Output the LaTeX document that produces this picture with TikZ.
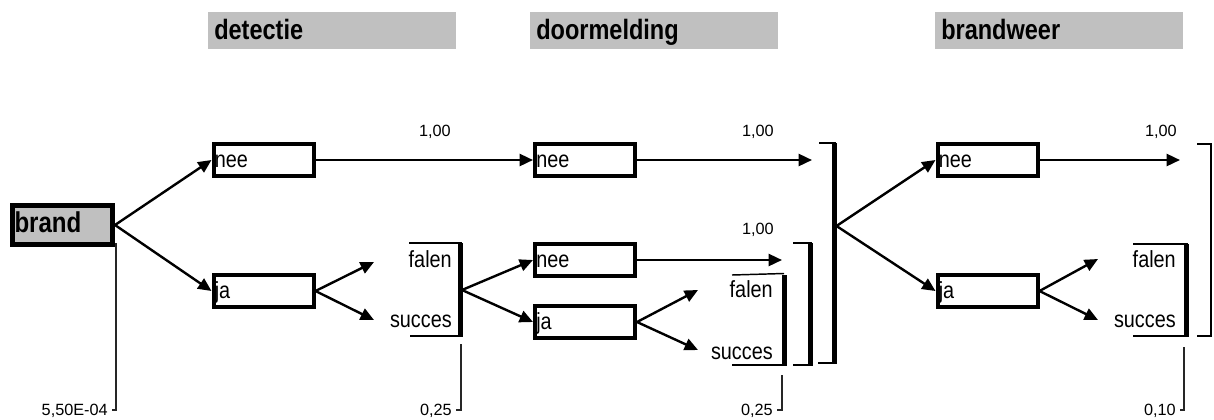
\documentclass[tikz,border=0pt]{standalone}
\usepackage{fontspec}
\setmainfont{Liberation Sans}
\newfontfamily\headfont[FakeStretch=0.84]{Liberation Sans}
\newfontfamily\labfont[FakeStretch=0.85]{Liberation Sans}
\usetikzlibrary{arrows.meta}

\definecolor{barfill}{HTML}{C0C0C0}

\tikzset{
  head/.style={fill=barfill, anchor=north west, minimum width=186pt, minimum height=27.75pt,
    inner xsep=4.5pt, inner ysep=0pt, text width=177pt, align=left,
    text height=12.75pt, text depth=0pt,
    font=\headfont\bfseries\fontsize{21}{24}\selectfont},
  startbox/.style={draw, fill=barfill, line width=3.75pt, minimum width=75pt, minimum height=29pt,
    inner xsep=1.5pt, inner ysep=0pt, text width=72pt, align=left,
    text height=10.5pt, text depth=0pt,
    font=\headfont\bfseries\fontsize{21.5}{24}\selectfont},
  box/.style={draw, line width=3pt, minimum width=75pt, minimum height=24pt,
    inner xsep=1pt, inner ysep=0pt, text width=73pt, align=left,
    text height=10.5pt, text depth=0pt,
    font=\labfont\fontsize{17.5}{20}\selectfont},
  outcome/.style={anchor=base east, inner sep=0pt, font=\labfont\fontsize{17.5}{20}\selectfont},
  num/.style={anchor=base east, inner sep=0pt, font=\fontsize{12.2}{14}\selectfont},
  arr/.style={line width=1.8pt, -{Triangle[length=10pt,width=9pt]}},
  thinl/.style={line width=1.1pt},
  bar/.style={line width=3.75pt},
  valline/.style={line width=1.1pt, black!85},
}

\begin{document}
\begin{tikzpicture}[x=0.75pt,y=-0.75pt]
\useasboundingbox (0,0) rectangle (1214,419);

% phase headers
\node[head] (hdet) at (208,12) {detectie};
\node[head] (hdoor) at (530,12) {doormelding};
\node[head] (hbw) at (935,12) {brandweer};

% event boxes
\node[startbox] (brand) at (62.5,225) {brand};

\node[box] (dnee) at (263.5,160) {nee};
\node[box] (dja)  at (263.5,291) {ja};

\node[box] (mnee)  at (585,160) {nee};
\node[box] (mnee2) at (585,260) {nee};
\node[box] (mja2)  at (585,322) {ja};

\node[box] (bnee) at (987.5,160) {nee};
\node[box] (bja)  at (987.5,291) {ja};

% free arrow ends
\coordinate (e1) at (812,160);
\coordinate (e2) at (782,260);
\coordinate (e3) at (1180,160);
\coordinate (f1) at (374,262);
\coordinate (s1) at (374,320);
\coordinate (f2) at (698,290);
\coordinate (s2) at (698,350);
\coordinate (f3) at (1098,259);
\coordinate (s3) at (1098,320);

% branching points on the brackets
\coordinate (g1m) at (462,290);
\coordinate (cm) at (836.5,226);

% arrows
\draw[arr] (brand.east) -- (dnee.west);
\draw[arr] (brand.east) -- (dja.west);
\draw[arr] (dnee.east) -- (mnee.west);
\draw[arr] (mnee.east) -- (e1);
\draw[arr] (dja.east) -- (f1);
\draw[arr] (dja.east) -- (s1);
\draw[arr] (g1m) -- (mnee2.west);
\draw[arr] (g1m) -- (mja2.west);
\draw[arr] (mnee2.east) -- (e2);
\draw[arr] (mja2.east) -- (f2);
\draw[arr] (mja2.east) -- (s2);
\draw[arr] (cm) -- (bnee.west);
\draw[arr] (cm) -- (bja.west);
\draw[arr] (bnee.east) -- (e3);
\draw[arr] (bja.east) -- (f3);
\draw[arr] (bja.east) -- (s3);

% outcome labels
\node[outcome] (fa1) at (452,267) {falen};
\node[outcome] (su1) at (452,327) {succes};
\node[outcome] (fa2) at (773,297) {falen};
\node[outcome] (su2) at (773,359) {succes};
\node[outcome] (fa3) at (1176,267) {falen};
\node[outcome] (su3) at (1176,327) {succes};

% probabilities
\node[num] (p1) at (451,136) {1,00};
\node[num] (p2) at (774,136) {1,00};
\node[num] (p3) at (774,234) {1,00};
\node[num] (p4) at (1177,136) {1,00};

% brackets of detectie outcomes
\draw[thinl] (409,243) -- (462,243);
\draw[thinl] (410,336) -- (462,336);
\draw[bar] (460.5,243) -- (460.5,336.5);

% brackets of doormelding outcomes
\draw[thinl] (732,275) -- (784,273.5);
\draw[thinl] (732,365) -- (787,365);
\draw[bar] (784.5,275) -- (784.5,365.5);
\draw[thinl] (793,243) -- (812,243);
\draw[thinl] (793,365) -- (812,365);
\draw[bar] (810.5,243) -- (810.5,365.5);
\draw[thinl] (819,143) -- (836,143);
\draw[thinl] (818,363) -- (836,363);
\draw[bar] (834.5,143) -- (834.5,363.5);

% brackets of brandweer outcomes
\draw[thinl] (1133,244) -- (1188,244);
\draw[thinl] (1133,336) -- (1188,336);
\draw[bar] (1186.5,244) -- (1186.5,336.5);
\draw[line width=1.5pt] (1197,144) -- (1211,144) -- (1211,336) -- (1197,336);

% cumulative values
\draw[valline] (116,243) -- (116,410) -- (112,410);
\node[num] (v0) at (108,415) {5,50E-04};
\draw[valline] (461,344) -- (461,410) -- (456,410);
\node[num] (v1) at (452,415) {0,25};
\draw[valline] (782,375) -- (782,410) -- (777,410);
\node[num] (v2) at (773,415) {0,25};
\draw[valline] (1184,347) -- (1184,410) -- (1180,410);
\node[num] (v3) at (1176,415) {0,10};
\end{tikzpicture}
\end{document}
